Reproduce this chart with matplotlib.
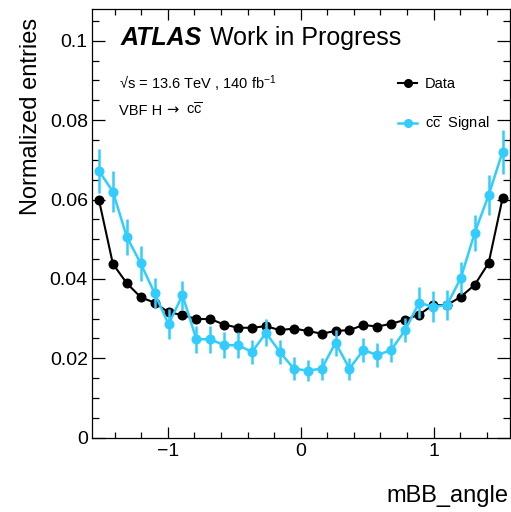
#!/usr/bin/env python3
"""
Normalized mBB_angle distribution: data vs cc signal (ATLAS style).
"""

import matplotlib
matplotlib.use('Agg')
import matplotlib.pyplot as plt
from matplotlib.lines import Line2D
from matplotlib.ticker import MultipleLocator
import numpy as np

plt.rcParams['font.family'] = ['Liberation Sans', 'DejaVu Sans']
plt.rcParams['mathtext.fontset'] = 'custom'
plt.rcParams['mathtext.rm'] = 'Liberation Sans'
plt.rcParams['mathtext.it'] = 'Liberation Sans:italic'
plt.rcParams['mathtext.bf'] = 'Liberation Sans:bold'

# binning: 30 bins over [-pi/2, pi/2]
n_bins = 30
x_lo, x_hi = -np.pi / 2, np.pi / 2

data_vals = [0.0599, 0.0438, 0.0389, 0.0354, 0.0340, 0.0316, 0.0309, 0.0299, 0.0299, 0.0285,
             0.0277, 0.0277, 0.0281, 0.0271, 0.0275, 0.0269, 0.0262, 0.0269, 0.0271, 0.0284,
             0.0280, 0.0287, 0.0297, 0.0310, 0.0334, 0.0334, 0.0355, 0.0385, 0.0440, 0.0603]

signal_vals = [0.0672, 0.0620, 0.0506, 0.0439, 0.0364, 0.0286, 0.0359, 0.0248, 0.0248, 0.0233,
               0.0233, 0.0216, 0.0264, 0.0216, 0.0174, 0.0169, 0.0174, 0.0239, 0.0174, 0.0221,
               0.0208, 0.0221, 0.0271, 0.0340, 0.0330, 0.0334, 0.0402, 0.0516, 0.0611, 0.0720]

signal_errs = [0.0055, 0.0051, 0.0046, 0.0044, 0.0038, 0.0037, 0.0037, 0.0034, 0.0034, 0.0033,
               0.0033, 0.0031, 0.0034, 0.0031, 0.0029, 0.0027, 0.0028, 0.0033, 0.0028, 0.0030,
               0.0030, 0.0030, 0.0031, 0.0039, 0.0039, 0.0038, 0.0040, 0.0045, 0.0050, 0.0055]

edges = np.linspace(x_lo, x_hi, n_bins + 1)
centers = 0.5 * (edges[:-1] + edges[1:])

W, H = 511, 512
fig = plt.figure(figsize=(W / 100, H / 100), dpi=100)
ax = fig.add_axes([92 / W, 1 - 437.7 / H, (509.5 - 92) / W, (437.7 - 9) / H])

BLACK = 'black'
CYAN = '#33ccff'
CC = r'c$\overline{\mathrm{c}}$'

ax.plot(centers, data_vals, '-o', color=BLACK, lw=1.5, ms=6.2, zorder=3)
ax.errorbar(centers, signal_vals, yerr=signal_errs, fmt='-o', color=CYAN, lw=1.8,
            elinewidth=1.8, ms=6.2, capsize=0, zorder=4)

ax.set_xlim(x_lo, x_hi)
ax.set_ylim(0, 0.108)

ax.xaxis.set_major_locator(MultipleLocator(1))
ax.xaxis.set_minor_locator(MultipleLocator(0.2))
ax.yaxis.set_major_locator(MultipleLocator(0.02))
ax.yaxis.set_minor_locator(MultipleLocator(0.005))
ax.yaxis.set_major_formatter(plt.FuncFormatter(lambda v, p: '0' if v == 0 else f'{v:g}'))
ax.xaxis.set_major_formatter(plt.FuncFormatter(lambda v, p: f'{v:g}'.replace('-', '\u2212')))

ax.tick_params(axis='both', which='both', direction='in', top=True, right=True,
               labelsize=14, width=0.9)
ax.tick_params(axis='x', which='major', length=8, pad=4)
ax.tick_params(axis='x', which='minor', length=4)
ax.tick_params(axis='y', which='major', length=9.5, pad=3)
ax.tick_params(axis='y', which='minor', length=4.8)
for sp in ax.spines.values():
    sp.set_linewidth(0.9)

# axis titles, ROOT style (aligned to the ends)
fig.text(31 / W, 1 - 18 / H, 'Normalized entries', rotation=90, ha='center', va='top',
         fontsize=17)
fig.text(508 / W, 1 - 502 / H, 'mBB_angle', ha='right', va='baseline', fontsize=17)

# ATLAS label
fig.text(121 / W, 1 - 45 / H, 'ATLAS', fontsize=18, fontweight='bold', style='italic',
         va='baseline')
fig.text(210 / W, 1 - 45 / H, 'Work in Progress', fontsize=18, va='baseline')
fig.text(119 / W, 1 - 89 / H, '\u221as = 13.6 TeV , 140 fb$^{-1}$', fontsize=10.5,
         va='baseline')
fig.text(119 / W, 1 - 115 / H, 'VBF H', fontsize=10.5, va='baseline')
fig.text(166 / W, 1 - 114.5 / H, '\u2192', fontsize=10.5, va='baseline', family='DejaVu Sans')
fig.text(186 / W, 1 - 115 / H, CC, fontsize=10.5, va='baseline')

handles = [
    Line2D([], [], color=BLACK, marker='o', lw=1.5, ms=5.5),
    Line2D([], [], color=CYAN, marker='o', lw=1.8, ms=5.5),
]
labels = ['Data', CC + '  Signal']
ax.legend(handles, labels, loc='upper left', bbox_to_anchor=(391 / W, 1 - 70 / H),
          bbox_transform=fig.transFigure, frameon=False, fontsize=10.5,
          handlelength=1.3, handletextpad=0.5, labelspacing=1.6, borderpad=0)

fig.savefig('out.png', dpi=100, facecolor='white')
